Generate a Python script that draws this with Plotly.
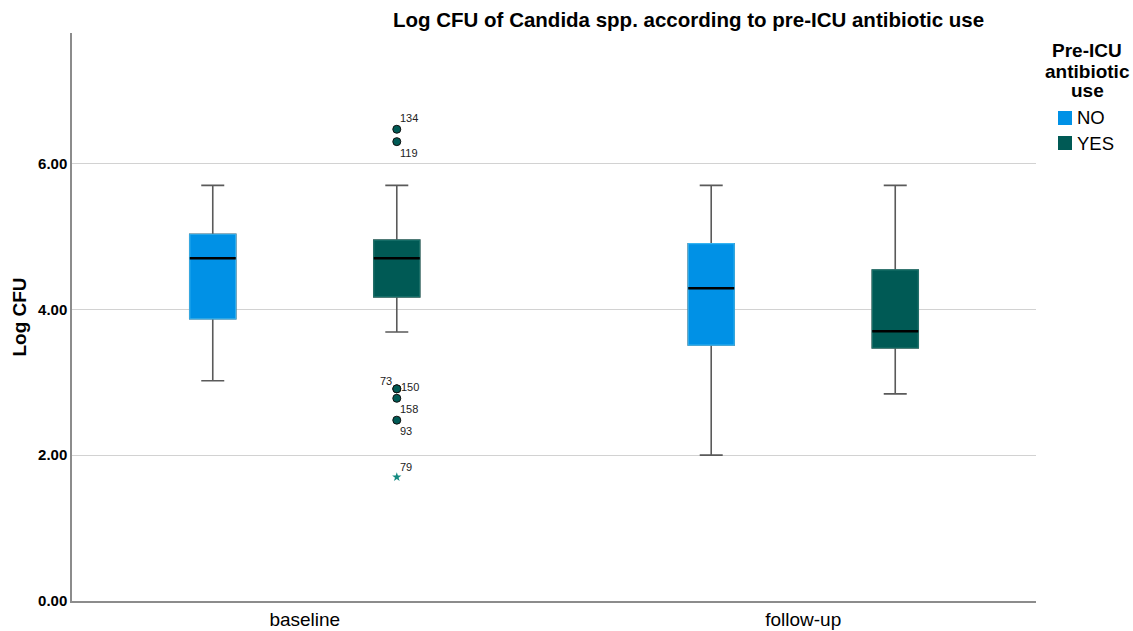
import plotly.graph_objects as go

# ---- data ----
timepoints = ["baseline", "follow-up"]
groups = ["NO", "YES"]

# box statistics per group, one entry per timepoint
lower_fence = {"NO": [3.02, 2.00], "YES": [3.69, 2.84]}
q1 = {"NO": [3.87, 3.51], "YES": [4.17, 3.47]}
median = {"NO": [4.70, 4.29], "YES": [4.70, 3.70]}
q3 = {"NO": [5.03, 4.90], "YES": [4.95, 4.54]}
upper_fence = {"NO": [5.70, 5.70], "YES": [5.70, 5.70]}

# baseline / YES outliers (case id, value)
outlier_ids = ["134", "119", "73", "150", "158", "93"]
outlier_vals = [6.47, 6.30, 2.91, 2.91, 2.78, 2.48]
extreme_ids = ["79"]
extreme_vals = [1.70]

y_ticks = [0.0, 2.0, 4.0, 6.0]
legend_title_lines = ["Pre-ICU", "antibiotic", "use"]

# ---- styling ----
fill_colors = {"NO": "#0091E6", "YES": "#005A55"}
edge_colors = {"NO": "#35B4F2", "YES": "#1D746D"}
whisker_color = "#5a5a5a"
font_family = "Liberation Sans, Arial, sans-serif"

group_offset = {"NO": -0.1846, "YES": 0.1846}
box_width = 0.0923

# label offsets (pixels) for the case-number labels next to outliers
outlier_label_shift = [(12, 11), (12, -11), (-11, 8), (13, 2), (12, -11), (9, -11)]
extreme_label_shift = [(9, 10)]

W, H = 1133, 631
M = dict(l=72, r=97, t=33, b=30)
plot_w = W - M["l"] - M["r"]
plot_h = H - M["t"] - M["b"]


def px_to_paper(px, py):
    return (px - M["l"]) / plot_w, (H - M["b"] - py) / plot_h


fig = go.Figure()

for g in groups:
    xs = [i + group_offset[g] for i in range(len(timepoints))]
    # whiskers and caps
    fig.add_trace(go.Box(
        x=xs, q1=q1[g], median=median[g], q3=q3[g],
        lowerfence=lower_fence[g], upperfence=upper_fence[g],
        width=box_width, whiskerwidth=0.5,
        line=dict(color=whisker_color, width=1.6),
        fillcolor="rgba(0,0,0,0)", hoverinfo="skip", showlegend=False,
    ))
    # filled interquartile box
    fig.add_trace(go.Box(
        x=xs, q1=q1[g], median=median[g], q3=q3[g],
        lowerfence=q1[g], upperfence=q3[g],
        width=box_width, whiskerwidth=0,
        line=dict(color=edge_colors[g], width=1.2),
        fillcolor=fill_colors[g], hoverinfo="skip", showlegend=False,
    ))
    # median bar
    fig.add_trace(go.Box(
        x=xs, q1=median[g], median=median[g], q3=median[g],
        lowerfence=median[g], upperfence=median[g],
        width=box_width, whiskerwidth=0,
        line=dict(color="black", width=2.4),
        fillcolor="rgba(0,0,0,0)", hoverinfo="skip", showlegend=False,
    ))

# outliers for baseline / YES
x_yes_base = 0 + group_offset["YES"]
fig.add_trace(go.Scatter(
    x=[x_yes_base] * len(outlier_vals), y=outlier_vals, mode="markers",
    marker=dict(symbol="circle", size=8, color="#005A55",
                line=dict(color="#111111", width=1)),
    hoverinfo="skip", showlegend=False, cliponaxis=False,
))
fig.add_trace(go.Scatter(
    x=[x_yes_base] * len(extreme_vals), y=extreme_vals, mode="markers",
    marker=dict(symbol="star", size=7, color="#148A80"),
    hoverinfo="skip", showlegend=False, cliponaxis=False,
))

annotations = []
label_font = dict(family=font_family, size=11, color="#222222")
for lab, val, (dx, dy) in zip(outlier_ids + extreme_ids, outlier_vals + extreme_vals,
                              outlier_label_shift + extreme_label_shift):
    annotations.append(dict(
        text=lab, x=x_yes_base, y=val, xref="x", yref="y",
        xshift=dx, yshift=dy, showarrow=False, font=label_font,
        xanchor="center", yanchor="middle",
    ))

# chart title
tx, ty = px_to_paper(688, 20)
annotations.append(dict(
    text="<b>Log CFU of Candida spp. according to pre-ICU antibiotic use</b>",
    xref="paper", yref="paper", x=tx, y=ty, xanchor="center", yanchor="middle",
    showarrow=False, font=dict(size=20.5, family=font_family),
))

# legend: title lines and swatches
for line, cy in zip(legend_title_lines, [50, 71, 91]):
    lx, ly = px_to_paper(1087, cy)
    annotations.append(dict(
        text=f"<b>{line}</b>", xref="paper", yref="paper",
        x=lx, y=ly, xanchor="center", yanchor="middle",
        showarrow=False, font=dict(size=19, family=font_family),
    ))
shapes = []
for g, cy in zip(groups, [118, 143]):
    x0, y0 = px_to_paper(1058, cy + 7)
    x1, y1 = px_to_paper(1072, cy - 7)
    shapes.append(dict(type="rect", xref="paper", yref="paper", x0=x0, y0=y0,
                       x1=x1, y1=y1, fillcolor=fill_colors[g], line=dict(width=0)))
    tx, ty = px_to_paper(1075, cy)
    annotations.append(dict(
        text=g, xref="paper", yref="paper", x=tx, y=ty, xanchor="left", yanchor="middle",
        showarrow=False, font=dict(size=18.5, family=font_family),
    ))

fig.update_layout(
    width=W, height=H, margin=M,
    paper_bgcolor="white", plot_bgcolor="white",
    font=dict(family=font_family, color="black"),
    showlegend=False,
    annotations=annotations, shapes=shapes,
)

fig.update_xaxes(
    range=[-0.467, 1.467], tickvals=list(range(len(timepoints))), ticktext=timepoints,
    tickfont=dict(size=19), showgrid=False, zeroline=False, automargin=False,
    showline=True, linecolor="#8c8c8c", linewidth=1.5, ticks="",
)
fig.update_yaxes(
    range=[0, 7.79], tickvals=y_ticks, tickformat=".2f", automargin=False,
    tickfont=dict(size=15, weight="bold"),
    title=dict(text="Log CFU", font=dict(size=19, weight="bold"), standoff=6),
    showgrid=True, gridcolor="#d2d2d2", gridwidth=1.2, zeroline=False,
    showline=True, linecolor="#8c8c8c", linewidth=1.5, ticks="",
)

fig.write_html("out.html")
